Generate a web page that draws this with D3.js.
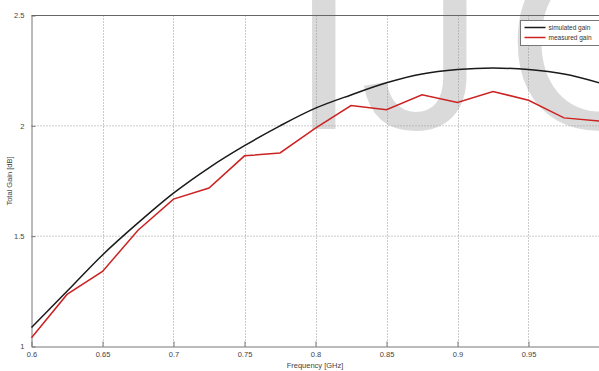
<!DOCTYPE html>
<html><head><meta charset="utf-8">
<script src="https://cdn.jsdelivr.net/npm/d3@7"></script>
<style>body{margin:0;background:#fff;} svg{display:block;}</style>
</head><body>
<script>
const freq = [0.6,0.625,0.65,0.675,0.7,0.725,0.75,0.775,0.8,0.825,0.85,0.875,0.9,0.925,0.95,0.975,1.0];
const simulatedGain = [1.086,1.25,1.415,1.56,1.695,1.81,1.91,2.0,2.08,2.14,2.195,2.235,2.255,2.262,2.255,2.235,2.195];
const measuredGain = [1.04,1.236,1.34,1.527,1.668,1.718,1.864,1.877,1.99,2.092,2.073,2.141,2.106,2.156,2.116,2.036,2.022];
const xTicks = [0.6,0.65,0.7,0.75,0.8,0.85,0.9,0.95];
const xTickLabels = ["0.6","0.65","0.7","0.75","0.8","0.85","0.9","0.95"];
const yTicks = [1,1.5,2,2.5];
const yTickLabels = ["1","1.5","2","2.5"];
const seriesNames = ["simulated gain","measured gain"];
const seriesColors = ["#1a1a1a","#cc2222"];
const watermarkLetters = ["I","J","C"];

const W=599,H=371;
const font="Liberation Sans, Arial, sans-serif";
const svg=d3.select("body").append("svg").attr("width",W).attr("height",H);
const x=d3.scaleLinear().domain([0.6,1.0]).range([31.5,599.5]);
const y=d3.scaleLinear().domain([1,2.5]).range([346.5,15.5]);

// watermark
const wmX=[289,360,505];
svg.append("g").attr("fill","#dadada").attr("font-family",font).attr("font-size",250)
 .selectAll("text").data(watermarkLetters).join("text")
 .attr("x",(d,i)=>wmX[i]).attr("y",129).text(d=>d);

// grid
const g=svg.append("g");
g.selectAll(".vg").data(xTicks.slice(1)).join("line")
 .attr("x1",d=>Math.round(x(d))+0.5).attr("x2",d=>Math.round(x(d))+0.5).attr("y1",y(2.5)).attr("y2",y(1))
 .attr("stroke","#999").attr("stroke-width",1).attr("stroke-dasharray","1,2");
g.selectAll(".hg").data(yTicks.slice(1,-1)).join("line")
 .attr("y1",d=>y(d)).attr("y2",d=>y(d)).attr("x1",x(0.6)).attr("x2",x(1))
 .attr("stroke","#999").attr("stroke-width",1).attr("stroke-dasharray","1,2");

// axes
const xAxis=d3.axisBottom(x).tickValues(xTicks).tickFormat((d,i)=>xTickLabels[i]).tickSizeInner(-5).tickSizeOuter(0).tickPadding(5);
const yAxis=d3.axisLeft(y).tickValues(yTicks).tickFormat((d,i)=>yTickLabels[i]).tickSizeInner(-4).tickSizeOuter(0).tickPadding(7);
const gx=svg.append("g").attr("transform",`translate(0,${y(1)})`).call(xAxis);
const gy=svg.append("g").attr("transform",`translate(${x(0.6)},0)`).call(yAxis);
[gx,gy].forEach(a=>{
  a.selectAll("path,line").attr("stroke","#777");
  a.selectAll("text").attr("fill","#444").attr("font-family",font).attr("font-size",7.5);
});
// top border
svg.append("line").attr("x1",x(0.6)).attr("x2",x(1)).attr("y1",y(2.5)).attr("y2",y(2.5)).attr("stroke","#666");

// lines
svg.append("path").datum(simulatedGain)
 .attr("d",d3.line().x((d,i)=>x(freq[i])).y(d=>y(d)).curve(d3.curveCatmullRom))
 .attr("fill","none").attr("stroke",seriesColors[0]).attr("stroke-width",1.5);
svg.append("path").datum(measuredGain)
 .attr("d",d3.line().x((d,i)=>x(freq[i])).y(d=>y(d)))
 .attr("fill","none").attr("stroke",seriesColors[1]).attr("stroke-width",1.5);

// labels
svg.append("text").attr("x",315).attr("y",368).attr("text-anchor","middle").attr("font-size",7.5).attr("fill","#444")
 .attr("font-family",font).text("Frequency [GHz]");
svg.append("text").attr("transform","translate(12,181) rotate(-90)").attr("text-anchor","middle").attr("font-size",7.5).attr("fill","#444")
 .attr("font-family",font).text("Total Gain [dB]");

// legend
const lg=svg.append("g").attr("transform","translate(520.5,20.5)");
lg.append("rect").attr("x",0).attr("y",0).attr("width",80).attr("height",25).attr("fill","#fff").attr("stroke","#777");
seriesNames.forEach((n,i)=>{
  lg.append("line").attr("x1",4).attr("x2",25).attr("y1",7+i*10).attr("y2",7+i*10).attr("stroke",seriesColors[i]).attr("stroke-width",1.5);
  lg.append("text").attr("x",28).attr("y",9.5+i*10).attr("font-size",6.5).attr("fill","#333")
   .attr("font-family",font).text(n);
});
</script>
</body></html>
